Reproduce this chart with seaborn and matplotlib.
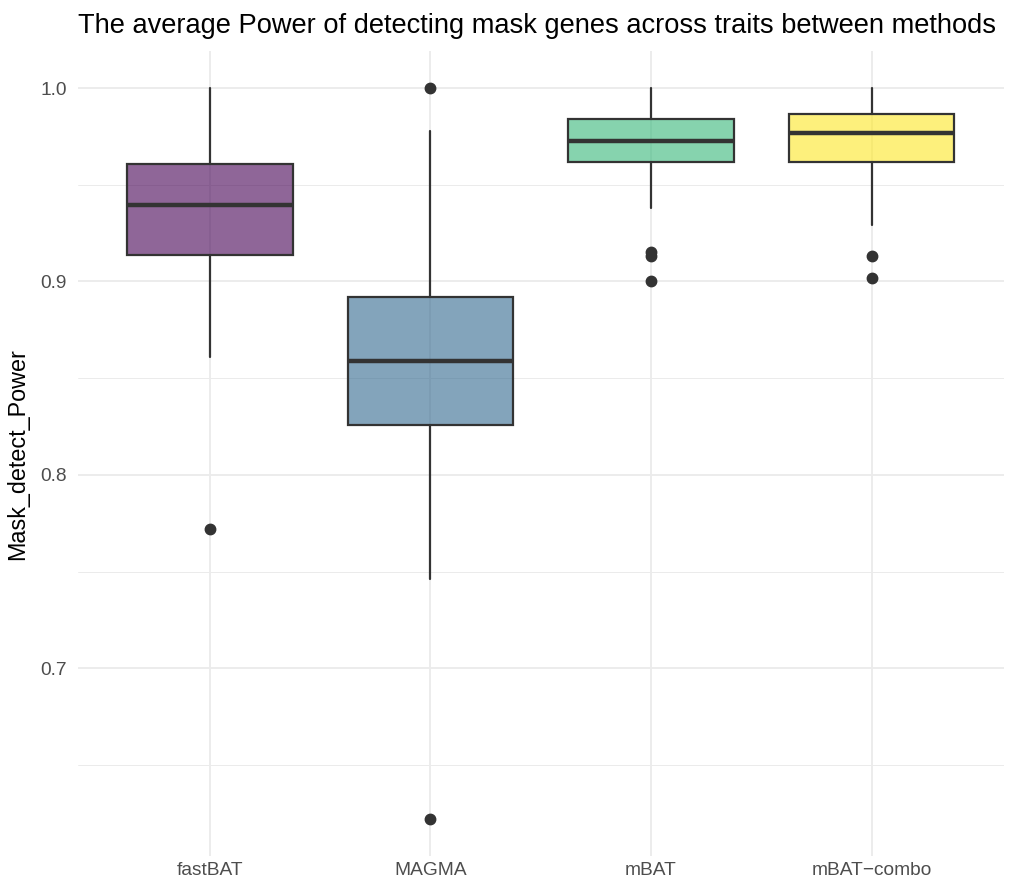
import matplotlib
matplotlib.use("Agg")
import matplotlib.pyplot as plt
import seaborn as sns
import numpy as np

methods = ["fastBAT", "MAGMA", "mBAT", "mBAT\u2212combo"]
whisker_low = [0.861, 0.746, 0.938, 0.929]
q1 = [0.9137, 0.826, 0.9615, 0.9615]
median = [0.9395, 0.859, 0.9725, 0.977]
q3 = [0.9607, 0.892, 0.9838, 0.9866]
whisker_high = [1.0, 0.978, 1.0, 1.0]
outliers = [[0.772], [1.0, 0.622], [0.915, 0.913, 0.900], [0.913, 0.902]]
colors = ["#440154", "#31688E", "#35B779", "#FDE725"]

sns.set_theme(style="whitegrid")
plt.rcParams['font.family'] = ['Liberation Sans', 'DejaVu Sans']

fig = plt.figure(figsize=(10.15, 8.84), dpi=100)
ax = fig.add_axes([0.0765, 0.0317, 0.9125, 0.9103])

stats = []
for i, m in enumerate(methods):
    stats.append(dict(label=m, whislo=whisker_low[i], q1=q1[i], med=median[i],
                      q3=q3[i], whishi=whisker_high[i], fliers=outliers[i]))

pos = np.arange(len(methods))
bp = ax.bxp(stats, positions=pos, widths=0.75, patch_artist=True, showcaps=False,
            boxprops=dict(edgecolor="#333333", linewidth=1.6),
            medianprops=dict(color="#333333", linewidth=3.2),
            whiskerprops=dict(color="#333333", linewidth=1.6),
            flierprops=dict(marker="o", markerfacecolor="#333333", markeredgecolor="#333333",
                            markersize=7.5))
for patch, c in zip(bp["boxes"], colors):
    patch.set_facecolor(matplotlib.colors.to_rgba(c, 0.6))
    patch.set_zorder(2)
for l in bp["medians"] + bp["whiskers"] + bp["fliers"]:
    l.set_zorder(3)

ax.set_xlim(-0.6, 3.6)
ax.set_ylim(0.603, 1.019)
ax.set_xticks(pos)
ax.set_xticklabels(methods)
ax.set_yticks([0.7, 0.8, 0.9, 1.0])
ax.set_yticklabels(["0.7", "0.8", "0.9", "1.0"])
ax.set_yticks([0.65, 0.75, 0.85, 0.95], minor=True)
ax.grid(True, which="major", color="#EBEBEB", linewidth=1.3)
ax.grid(True, which="minor", axis="y", color="#EBEBEB", linewidth=0.7)
ax.grid(False, which="minor", axis="x")
ax.set_axisbelow(True)
for s in ax.spines.values():
    s.set_visible(False)
ax.tick_params(axis="both", which="both", length=0, labelsize=13.8, colors="#4D4D4D")
ax.tick_params(axis="x", pad=4)
ax.tick_params(axis="y", pad=8)
ax.set_ylabel("Mask_detect_Power", fontsize=16.8, color="black", labelpad=8)
ax.set_xlabel("")
ax.set_title("The average Power of detecting mask genes across traits between methods",
             fontsize=19.6, loc="left", pad=13, color="black")

fig.savefig("out.png", dpi=100)
